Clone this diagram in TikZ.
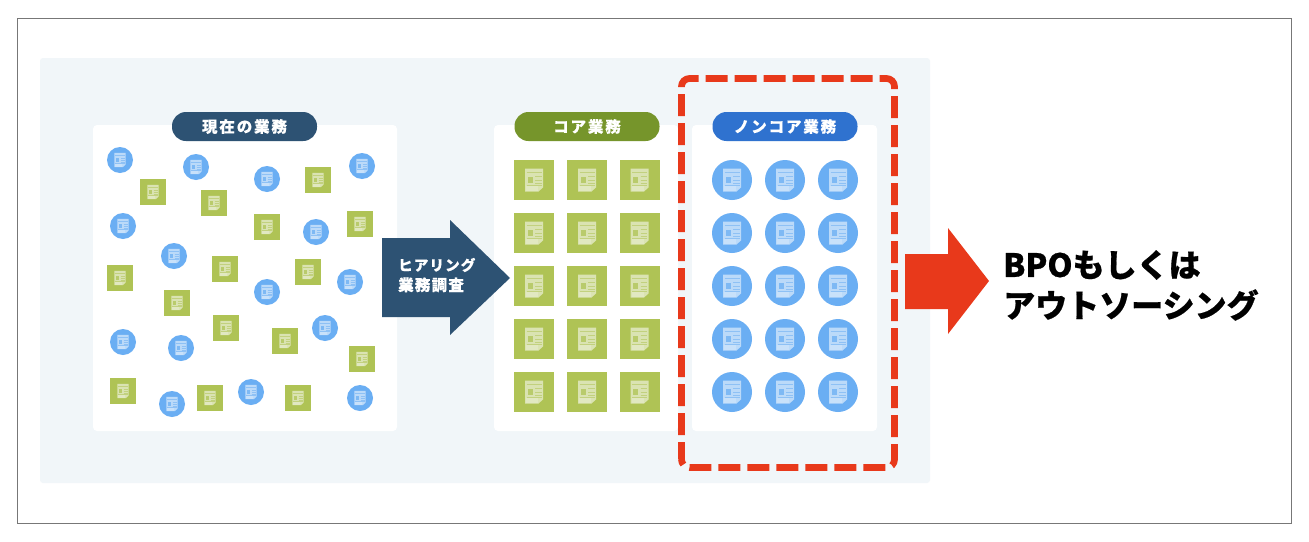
\documentclass[tikz,border=0pt]{standalone}
\usepackage{fontspec}
\setmainfont{Noto Sans CJK JP}
\usetikzlibrary{positioning}
\definecolor{panelbg}{HTML}{F1F6F9}
\definecolor{navy}{HTML}{2D5273}
\definecolor{moss}{HTML}{76952B}
\definecolor{leaf}{HTML}{AFC355}
\definecolor{royal}{HTML}{2F72CF}
\definecolor{sky}{HTML}{6AAEF3}
\definecolor{alert}{HTML}{E8391B}
\definecolor{frameline}{HTML}{777777}
\tikzset{
  panel/.style={fill=white,rounded corners=4pt},
  pill/.style={minimum width=145pt,minimum height=29pt,inner sep=0pt,rounded corners=14pt,
               text=white,font=\fontsize{15.5}{16}\selectfont\bfseries\addfontfeature{LetterSpace=12,FakeBold=.4}},
  bluedot/.style={circle,fill=sky,inner sep=0pt,minimum size=#1},
  greenbox/.style={rectangle,fill=leaf,inner sep=0pt,minimum size=#1},
  docglyph/.pic={
    \fill[white,opacity=.55] (-9,-11.5) -- (9,-11.5) -- (9,7.5) -- (4.5,11.5) -- (-9,11.5) -- cycle;
    \fill[white,opacity=.2] (-8,6) rectangle (4,10.5);
    \fill[pic actions,opacity=.75] (-6.3,-2.7) rectangle (-1.3,3.3);
    \draw[pic actions,line width=.8pt,opacity=.55]
      (-7.5,-7.5) -- (7.5,-7.5) (1,-3.3) -- (7.5,-3.3) (1,0) -- (7.5,0) (1,3.3) -- (7.5,3.3) (-7.5,5.8) -- (7.5,5.8);
  },
}
\begin{document}
\begin{tikzpicture}[x=1pt,y=-1pt]
\useasboundingbox (0,0) rectangle (1309,541);
\fill[white] (0,0) rectangle (1309,541);
\draw[frameline,line width=1pt] (17.5,18.5) rectangle (1291,523);
\fill[panelbg,rounded corners=3pt] (40,58) rectangle (930,483);

\fill[panel] (93,125) rectangle (397,431);
\fill[panel] (494,125) rectangle (678,431);
\fill[panel] (692,125) rectangle (877,431);

\node[pill,fill=navy] (nowtag) at (244.5,126.5) {現在の業務};
\node[pill,fill=moss] (coretag) at (587,126.5) {コア業務};
\node[pill,fill=royal] (noncoretag) at (785,126.5) {ノンコア業務};

% scattered
\foreach \x/\y in {120/160,196/167,267/179,362/166,123/226,316/232,174/256,267/292,350/282,
                   123/342,181/348,325/328,172/404,251/392,360/398} {
  \node[bluedot=26pt] at (\x,\y) {};
  \pic[scale=.62,sky] at (\x,\y) {docglyph};
}
\foreach \x/\y in {153/192,214/203,318/180,267/227,360/224,120/278,225/269,308/272,177/303,
                   226/328,285/341,362/359,123/391,210/398,298/398} {
  \node[greenbox=26pt] at (\x,\y) {};
  \pic[scale=.62,leaf] at (\x,\y) {docglyph};
}

% sorted
\foreach \y in {180,233,286,339,392} {
  \foreach \x in {534,587,639.5} {
    \node[greenbox=40pt] at (\x,\y) {};
    \pic[leaf] at (\x,\y) {docglyph};
  }
  \foreach \x in {732,785,838} {
    \node[bluedot=40pt] at (\x,\y) {};
    \pic[sky] at (\x,\y) {docglyph};
  }
}

\fill[navy] (382,238) -- (450,238) -- (450,220) -- (510,278) -- (450,335) -- (450,317) -- (382,317) -- cycle;
\node[anchor=west,inner sep=0pt,text=white,font=\fontsize{14.5}{16}\selectfont\bfseries\addfontfeature{LetterSpace=8,FakeBold=.4}] (hearing) at (398,265) {ヒアリング};
\node[below=5pt of hearing.south west,anchor=north west,inner sep=0pt,text=white,font=\fontsize{15.5}{16}\selectfont\bfseries\addfontfeature{LetterSpace=8,FakeBold=.4}] (survey) {業務調査};

\draw[alert,line width=6.7pt,rounded corners=8pt,dash pattern=on 22pt off 7pt,dash phase=4.5pt]
  (681.5,459.5) -- (681.5,78.5) -- (894.5,78.5) -- (894.5,467.5) -- (681.5,467.5) -- (681.5,459.5);

\fill[alert] (905,254) -- (948,254) -- (948,228) -- (989,281) -- (948,334) -- (948,309) -- (905,309) -- cycle;
\node[anchor=west,inner sep=0pt,font=\fontsize{32}{33}\selectfont\bfseries\addfontfeature{FakeBold=.6}] (bpo) at (1003,265) {BPOもしくは};
\node[anchor=west,inner sep=0pt,font=\fontsize{32}{33}\selectfont\bfseries\addfontfeature{FakeBold=.6}] (outsourcing) at (1003,305) {アウトソーシング};
\end{tikzpicture}
\end{document}
